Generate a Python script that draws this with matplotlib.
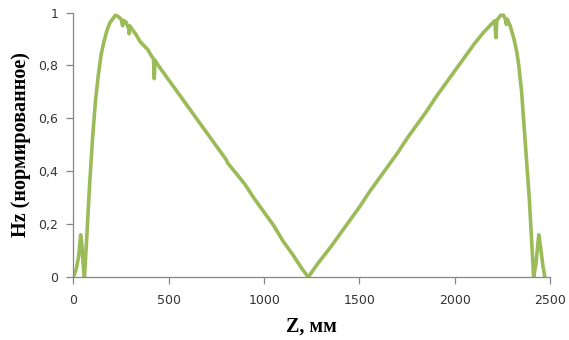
import matplotlib
matplotlib.use("Agg")
import matplotlib.pyplot as plt
from matplotlib.ticker import FuncFormatter

z_mm = [0, 15, 28, 38, 45, 52, 58, 70, 85, 100, 115, 130, 145, 160, 175, 190, 205, 220, 235,
        250, 258, 262, 275, 290, 292, 296, 310, 330, 350, 370, 390, 410, 420, 424, 428, 445,
        470, 500, 530, 560, 600, 650, 700, 750, 800, 810, 850, 900, 950, 1000, 1050, 1100,
        1150, 1200, 1232,
        1280, 1350, 1400, 1450, 1500, 1550, 1600, 1650, 1700, 1750, 1800, 1850, 1900, 1950,
        2000, 2050, 2100, 2150, 2190, 2210, 2215, 2220, 2240, 2255, 2265, 2270, 2275, 2290,
        2310, 2325, 2335, 2350, 2360, 2375, 2390, 2400, 2413, 2425, 2440, 2450, 2462, 2472]
hz_norm = [0.0, 0.03, 0.08, 0.16, 0.12, 0.04, 0.0, 0.15, 0.35, 0.52, 0.66, 0.76, 0.84, 0.89, 0.93,
           0.96, 0.975, 0.99, 0.985, 0.975, 0.95, 0.97, 0.965, 0.94, 0.92, 0.95, 0.935, 0.915,
           0.89, 0.875, 0.86, 0.835, 0.825, 0.75, 0.82, 0.80, 0.775, 0.745, 0.715, 0.685, 0.645,
           0.595, 0.545, 0.495, 0.445, 0.43, 0.395, 0.35, 0.295, 0.245, 0.195, 0.135, 0.085,
           0.03, 0.0,
           0.05, 0.115, 0.165, 0.215, 0.265, 0.32, 0.37, 0.42, 0.47, 0.525, 0.575, 0.625, 0.68,
           0.73, 0.78, 0.83, 0.88, 0.925, 0.955, 0.97, 0.905, 0.97, 0.99, 0.99, 0.975, 0.955,
           0.975, 0.95, 0.90, 0.85, 0.80, 0.70, 0.60, 0.45, 0.30, 0.17, 0.0, 0.05, 0.16, 0.11,
           0.04, 0.0]

x_ticks = [0, 500, 1000, 1500, 2000, 2500]
y_ticks = [0, 0.2, 0.4, 0.6, 0.8, 1.0]

fig = plt.figure(figsize=(5.69, 3.40), dpi=100)
ax = fig.add_axes([0.129, 0.185, 0.838, 0.778])
ax.plot(z_mm, hz_norm, color="#9BBB59", lw=2.6, solid_joinstyle="round", solid_capstyle="round")

ax.set_xlim(0, 2500)
ax.set_ylim(0, 1)
ax.set_xticks(x_ticks)
ax.set_yticks(y_ticks)
fmt = FuncFormatter(lambda v, p: ("%g" % v).replace(".", ","))
ax.yaxis.set_major_formatter(fmt)
ax.xaxis.set_major_formatter(FuncFormatter(lambda v, p: "%d" % v))

for s in ["top", "right"]:
    ax.spines[s].set_visible(False)
for s in ["left", "bottom"]:
    ax.spines[s].set_color("#868686")
    ax.spines[s].set_linewidth(0.9)
ax.tick_params(axis="both", colors="#868686", labelcolor="#333333", labelsize=9,
               length=5, width=0.9, direction="out")
ax.tick_params(axis="y", pad=6)
ax.tick_params(axis="x", pad=7)

ax.set_xlabel("Z, мм", family="Liberation Serif", fontweight="bold", fontsize=14.5, labelpad=7)
ax.set_ylabel("Hz (нормированное)", family="Liberation Serif", fontweight="bold", fontsize=14.5, labelpad=5)

fig.savefig("out.png", dpi=100, facecolor="white")
